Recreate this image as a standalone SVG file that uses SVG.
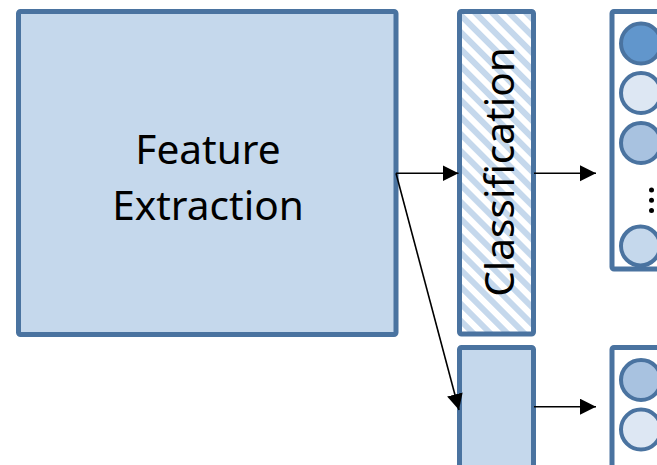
<svg xmlns="http://www.w3.org/2000/svg" width="657" height="465" viewBox="0 0 657 465">
  <style>
    .box { stroke: #4a73a0; stroke-width: 5; }
    .fill { fill: #c5d8ec; }
    .circ { stroke: #4a73a0; stroke-width: 4; }
    .lbl { font-family: "Noto Sans", "Open Sans", sans-serif; font-size: 40.6px; fill: #000; text-anchor: middle; }
    .conn { stroke: #000; stroke-width: 1.6; fill: none; }
  </style>
  <defs>
    <pattern id="hatch" patternUnits="userSpaceOnUse" width="12" height="12" patternTransform="rotate(-45)">
      <rect x="0" y="0" width="12" height="12" fill="#ffffff"/>
      <rect x="0" y="0" width="6" height="12" fill="#c5d8ec"/>
    </pattern>
    <marker id="arrow" markerUnits="userSpaceOnUse" markerWidth="17" markerHeight="17" refX="16" refY="8" orient="auto">
      <path d="M0,0 L16,8 L0,16 Z" fill="#000"/>
    </marker>
  </defs>

  <g id="feature-extraction">
    <rect class="box fill" x="18.5" y="11.5" width="377.5" height="323" rx="2"/>
    <text class="lbl" x="208" y="164">Feature</text>
    <text class="lbl" x="208" y="220">Extraction</text>
  </g>

  <g id="classification">
    <rect class="box" fill="url(#hatch)" x="459.5" y="11.5" width="74" height="322.5" rx="2"/>
    <text class="lbl" transform="translate(514,172) rotate(-90)" x="0" y="0">Classification</text>
  </g>

  <g id="second-head">
    <rect class="box fill" x="459.5" y="347.5" width="74" height="140" rx="2"/>
  </g>

  <g id="output-top">
    <rect class="box" fill="#ffffff" x="612" y="11.5" width="80" height="257.5" rx="2"/>
    <circle class="circ" cx="641" cy="43.5" r="20" fill="#6196cc"/>
    <circle class="circ" cx="641" cy="93" r="20" fill="#dde7f3"/>
    <circle class="circ" cx="641" cy="143" r="20" fill="#a8c2e0"/>
    <circle cx="651.5" cy="190" r="2.5" fill="#000"/>
    <circle cx="651.5" cy="200.3" r="2.5" fill="#000"/>
    <circle cx="651.5" cy="210.6" r="2.5" fill="#000"/>
    <circle class="circ" cx="640.5" cy="246" r="19.5" fill="#c5d8ec"/>
  </g>

  <g id="output-bottom">
    <rect class="box" fill="#ffffff" x="612" y="347.5" width="80" height="140" rx="2"/>
    <circle class="circ" cx="641" cy="380" r="20" fill="#a8c2e0"/>
    <circle class="circ" cx="641" cy="429.5" r="20" fill="#dde7f3"/>
  </g>

  <g id="connectors">
    <line class="conn" x1="396" y1="173.3" x2="458.5" y2="173.3" marker-end="url(#arrow)"/>
    <line class="conn" x1="396" y1="173.3" x2="459" y2="410" marker-end="url(#arrow)"/>
    <line class="conn" x1="534" y1="173.3" x2="596" y2="173.3" marker-end="url(#arrow)"/>
    <line class="conn" x1="534" y1="406.7" x2="596" y2="406.7" marker-end="url(#arrow)"/>
  </g>
</svg>
